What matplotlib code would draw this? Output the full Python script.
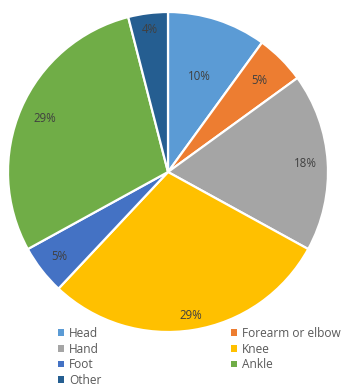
import matplotlib
matplotlib.use("Agg")
import matplotlib.pyplot as plt
import numpy as np

categories = ["Head", "Forearm or elbow", "Hand", "Knee", "Foot", "Ankle", "Other"]
values = [10, 5, 18, 29, 5, 29, 4]
colors = ["#5B9BD5", "#ED7D31", "#A5A5A5", "#FFC000", "#4472C4", "#70AD47", "#255E91"]
label_radius = [0.63, 0.81, 0.86, 0.91, 0.86, 0.84, 0.9]

plt.rcParams['font.family'] = ['Open Sans', 'DejaVu Sans']

W, H = 342, 387
fig = plt.figure(figsize=(W / 100, H / 100), dpi=100)
cx, cy, r = 168, 172, 160
ax = fig.add_axes([(cx - r) / W, (H - cy - r) / H, 2 * r / W, 2 * r / H])

wedges, _ = ax.pie(values, colors=colors, startangle=90, counterclock=False,
                   wedgeprops=dict(edgecolor="white", linewidth=1.6), radius=1)
ax.set_xlim(-1, 1)
ax.set_ylim(-1, 1)
ax.set_aspect("equal")

total = sum(values)
for w, v, rr in zip(wedges, values, label_radius):
    ang = np.deg2rad((w.theta1 + w.theta2) / 2)
    ax.text(rr * np.cos(ang), rr * np.sin(ang), f"{round(100 * v / total)}%",
            ha="center", va="center", fontsize=8.3, color="#404040")

order = [0, 2, 4, 6, 1, 3, 5]
handles = [wedges[i] for i in order]
labels = [categories[i] for i in order]
leg = fig.legend(handles, labels, ncol=2, loc="upper left",
                 bbox_to_anchor=(58 / W, 1 - 327 / H), frameon=False,
                 fontsize=8.6, handlelength=0.5, handleheight=0.5,
                 handletextpad=0.45, columnspacing=10.8, labelspacing=0.22,
                 borderpad=0, borderaxespad=0)
for t in leg.get_texts():
    t.set_color("#595959")
for h in leg.legend_handles:
    h.set_edgecolor("none")

fig.savefig("out.png", dpi=100)
